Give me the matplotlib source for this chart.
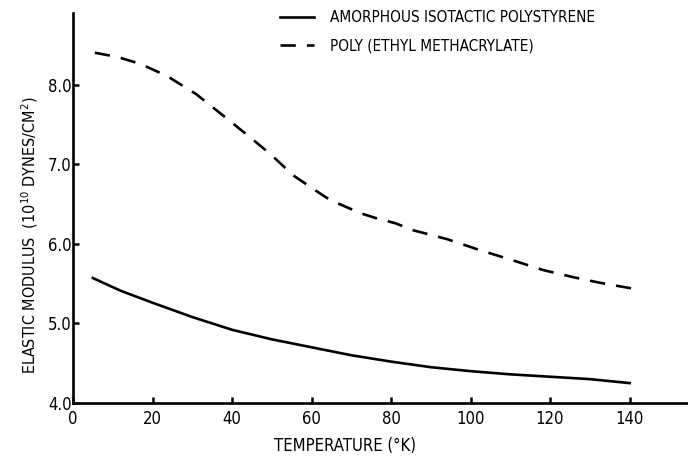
import numpy as np
import matplotlib
matplotlib.use('Agg')
import matplotlib.pyplot as plt

plt.rcParams['font.family'] = ['DejaVu Sans']
plt.rcParams['font.stretch'] = 'condensed'
plt.rcParams['lines.scale_dashes'] = False

# amorphous isotactic polystyrene (solid)
temp_ps = [5, 12, 20, 30, 40, 50, 60, 70, 80, 90, 100, 110, 120, 130, 140]
mod_ps = [5.57, 5.41, 5.26, 5.08, 4.92, 4.80, 4.70, 4.60, 4.52, 4.45, 4.40, 4.36, 4.33, 4.30, 4.25]

# poly(ethyl methacrylate) (dashed)
temp_pem = [5.5, 11, 17, 23.6, 31, 37.8, 44.5, 49.6, 55.4, 61.3, 64.7, 68.4, 72.6,
            76.4, 81, 85.6, 94, 102.4, 110.8, 118.3, 125.9, 132.6, 140.5]
mod_pem = [8.40, 8.35, 8.26, 8.11, 7.88, 7.61, 7.34, 7.13, 6.86, 6.66, 6.55, 6.47, 6.38,
           6.32, 6.26, 6.17, 6.06, 5.92, 5.79, 5.67, 5.58, 5.51, 5.44]

xticks = [0, 20, 40, 60, 80, 100, 120, 140]
yticks = [4, 5, 6, 7, 8]

fig = plt.figure(figsize=(6.88, 4.66), dpi=100)
ax = fig.add_axes([73/688, 1 - 403/466, 1 - 73/688, 390/466])

ax.plot(temp_ps, mod_ps, color='black', lw=1.9, label='AMORPHOUS ISOTACTIC POLYSTYRENE')
ax.plot(temp_pem, mod_pem, color='black', lw=1.9, dashes=(11, 8),
        label='POLY (ETHYL METHACRYLATE)')

ax.set_xlim(0, 154.7)
ax.set_ylim(4, 8.9)
ax.set_xticks(xticks)
ax.set_xticklabels([str(t) for t in xticks])
ax.set_yticks(yticks)
ax.set_yticklabels(['%.1f' % v for v in yticks])

for s in ['top', 'right']:
    ax.spines[s].set_visible(False)
for s in ['left', 'bottom']:
    ax.spines[s].set_linewidth(1.9)

ax.tick_params(direction='in', length=4.5, width=1.8, labelsize=12)
ax.tick_params(axis='x', pad=5)
ax.tick_params(axis='y', pad=1)

fig.text(30/688, 1 - 235/466, r'ELASTIC MODULUS  (10$^{10}$ DYNES/CM$^{2}$)',
         rotation=90, ha='center', va='center', fontsize=11.5)
fig.text(345/688, 1 - 446/466, 'TEMPERATURE (°K)', ha='center', va='center',
         fontsize=12)

ax.legend(loc='upper left', bbox_to_anchor=(280/688, 1 - 10/466),
          bbox_transform=fig.transFigure, frameon=False, fontsize=11,
          borderpad=0, borderaxespad=0, handlelength=2.2, handletextpad=1.1,
          labelspacing=0.9)

fig.savefig('out.png', dpi=100)
